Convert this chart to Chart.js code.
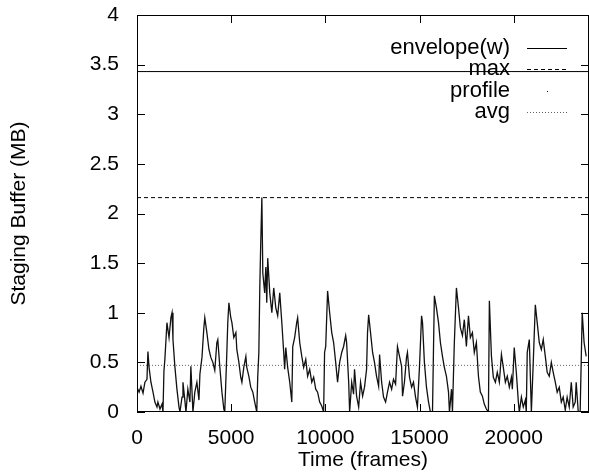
<!DOCTYPE html>
<html>
<head>
<meta charset="utf-8">
<script src="https://cdn.jsdelivr.net/npm/chart.js@4.4.1/dist/chart.umd.min.js"></script>
<style>
body { margin: 0; background: #fff; }
</style>
</head>
<body>
<canvas id="canvas1" width="589" height="474"></canvas>
<script>
// profile: [frame, MB]
var profile = [
[0,0.25],[110,0.2],[210,0.26],[320,0.19],[420,0.3],[530,0.33],[580,0.61],[640,0.45],[740,0.3],[850,0.2],[950,0.1],[1060,0.05],[1110,0.1],[1220,0.03],[1330,0.08],[1380,0],
[1430,0.41],[1480,0.53],[1590,0.9],[1700,0.75],[1800,0.95],[1860,1.0],[1910,0.73],[2010,0.46],[2120,0.23],[2230,0.05],[2280,0],[2390,0.15],[2440,0.3],[2540,0.12],[2600,0],
[2700,0.23],[2810,0.1],[2860,0.46],[2970,0],[3070,0.2],[3180,0.3],[3290,0.12],[3340,0.38],[3450,0.55],[3550,0.85],[3600,0.95],[3710,0.8],[3820,0.63],[3920,0.55],[4030,0.5],
[4130,0.42],[4240,0.7],[4290,0.73],[4400,0.45],[4510,0.2],[4610,0.03],[4660,0],[4770,0.6],[4820,0.9],[4880,1.1],[4980,0.95],[5040,0.9],[5140,0.75],[5250,0.8],[5300,0.63],
[5410,0.5],[5510,0.35],[5570,0.3],[5670,0.45],[5780,0.56],[5830,0.45],[5940,0.36],[6040,0.25],[6150,0.2],[6250,0.1],[6360,0],[6410,0.35],[6470,0.6],[6520,1.25],[6570,1.7],
[6630,2.16],[6680,1.4],[6780,1.2],[6840,1.46],[6890,1.1],[6940,1.55],[7050,1.2],[7160,1.0],[7260,1.25],[7370,1.05],[7470,0.97],[7580,1.2],[7690,0.9],[7790,0.6],[7840,0.43],
[7900,0.65],[8000,0.45],[8110,0.3],[8220,0.1],[8270,0.66],[8370,0.75],[8480,0.9],[8530,0.95],[8640,0.7],[8750,0.56],[8850,0.45],[8960,0.53],[9060,0.36],[9170,0.43],[9280,0.3],
[9380,0.35],[9490,0.23],[9590,0.2],[9700,0.1],[9810,0.06],[9910,0],[9960,0.6],[10020,0.66],[10120,1.22],[10230,1.0],[10340,0.8],[10440,0.7],[10550,0.5],[10650,0.3],[10760,0.5],
[10870,0.6],[10970,0.66],[11080,0.77],[11130,0.7],[11240,0.3],[11290,0],[11400,0.3],[11500,0.18],[11550,0.43],[11660,0.16],[11770,0.05],[11870,0.3],[11980,0.16],[12080,0.25],
[12190,0.43],[12240,0.8],[12300,0.98],[12400,0.8],[12510,0.6],[12610,0.5],[12720,0.36],[12830,0.26],[12880,0.58],[12990,0.3],[13090,0.15],[13200,0.1],[13300,0.2],[13410,0.3],
[13520,0.23],[13620,0.33],[13730,0.28],[13830,0.66],[13940,0.56],[14050,0.46],[14100,0.16],[14200,0.3],[14310,0.55],[14360,0.6],[14470,0.35],[14580,0.25],[14680,0.3],[14790,0.15],
[14890,0.05],[15000,0.46],[15110,0.97],[15160,0.9],[15260,0.5],[15370,0.25],[15480,0.1],[15580,0],[15690,0],[15740,0.6],[15790,1.17],[15900,1.05],[16010,0.9],[16110,0.7],
[16220,0.56],[16320,0.45],[16430,0.36],[16540,0.2],[16590,0],[16700,0.23],[16750,0],[16850,0.7],[16960,1.25],[17070,1.05],[17170,0.85],[17280,0.77],[17380,0.93],[17490,0.66],
[17600,0.97],[17700,0.75],[17810,0.8],[17910,0.6],[18020,0.7],[18130,0.36],[18230,0.2],[18340,0.16],[18440,0.08],[18550,0.03],[18660,0],[18710,1.12],[18820,0.56],[18920,0.35],
[19030,0.3],[19130,0.4],[19240,0.3],[19350,0.58],[19450,0.45],[19560,0.3],[19660,0.36],[19770,0.25],[19880,0.35],[19930,0.23],[20030,0.65],[20140,0.4],[20250,0.1],[20300,0],
[20410,0.15],[20510,0.05],[20620,0.12],[20670,0],[20720,0.6],[20830,0.73],[20940,0],[21040,0.5],[21150,1.08],[21250,0.9],[21360,0.7],[21470,0.63],[21570,0.73],[21680,0.56],
[21780,0.4],[21890,0.36],[22000,0.5],[22100,0.4],[22210,0.3],[22310,0.2],[22420,0.25],[22530,0.1],[22630,0.15],[22740,0.02],[22840,0.15],[22950,0.05],[23060,0.3],[23160,0.05],
[23270,0.1],[23320,0.3],[23430,0],[23530,0],[23640,1.0],[23740,0.7],[23850,0.56]
];

var levels = [3.43, 2.16, 0.47]; // envelope(w), max, avg
var labels = ['envelope(w)', 'max', 'profile', 'avg'];
var xRange = [0, 24000];
var yRange = [0, 4];
var xTicks = [0, 5000, 10000, 15000, 20000];
var yTicks = [0, 0.5, 1, 1.5, 2, 2.5, 3, 3.5, 4];

var font = 'Liberation Sans, Arial, Helvetica, sans-serif';
var fsize = 21;

function flat(v) {
    return [{x: xRange[0], y: v}, {x: xRange[1], y: v}];
}

var pts = [];
for (var i = 0; i < profile.length; i++) {
    pts.push({x: profile[i][0], y: profile[i][1]});
}

// gnuplot style: box, inward ticks on all 4 sides, legend inside top right
var gnuplotBits = {
    id: 'gnuplotBits',
    afterDraw: function (chart) {
        var ctx = chart.ctx;
        var a = chart.chartArea;
        var xs = chart.scales.x, ys = chart.scales.y;
        ctx.save();
        ctx.strokeStyle = '#000';
        ctx.lineWidth = 1;
        ctx.strokeRect(a.left + 0.5, a.top + 0.5, a.right - a.left - 1, a.bottom - a.top - 1);
        ctx.beginPath();
        for (var j = 0; j < yTicks.length; j++) {
            var py = Math.round(ys.getPixelForValue(yTicks[j])) + 0.5;
            ctx.moveTo(a.left, py); ctx.lineTo(a.left + 8, py);
            ctx.moveTo(a.right, py); ctx.lineTo(a.right - 8, py);
        }
        for (var t = 0; t < xTicks.length; t++) {
            var px = Math.round(xs.getPixelForValue(xTicks[t])) + 0.5;
            ctx.moveTo(px, a.bottom); ctx.lineTo(px, a.bottom - 8);
            ctx.moveTo(px, a.top); ctx.lineTo(px, a.top + 8);
        }
        ctx.stroke();

        // legend
        ctx.font = '22px ' + font;
        ctx.textAlign = 'right';
        ctx.textBaseline = 'middle';
        ctx.fillStyle = '#000';
        var ds = chart.data.datasets;
        for (var k = 0; k < ds.length; k++) {
            var ly = 48 + k * 21.3;
            ctx.fillText(ds[k].label, 510, ly);
            ctx.strokeStyle = ds[k].borderColor;
            ctx.lineWidth = 1;
            ctx.setLineDash(ds[k].borderDash || []);
            ctx.beginPath();
            if (ds[k].label == 'profile') {
                ctx.moveTo(547, Math.round(ly) + 0.5); ctx.lineTo(548, Math.round(ly) + 0.5);
            } else {
                ctx.moveTo(527, Math.round(ly) + 0.5); ctx.lineTo(567, Math.round(ly) + 0.5);
            }
            ctx.stroke();
        }
        ctx.restore();
    }
};

var ctx = document.getElementById('canvas1').getContext('2d');
var myChart = new Chart(ctx, {
    type: 'line',
    data: {
        datasets: [
            {label: labels[0], data: flat(levels[0]), borderColor: '#000', borderWidth: 1, pointRadius: 0},
            {label: labels[1], data: flat(levels[1]), borderColor: '#000', borderWidth: 1, borderDash: [4, 3], pointRadius: 0},
            {label: labels[2], data: pts, borderColor: '#111', borderWidth: 1.3, pointRadius: 0, tension: 0},
            {label: labels[3], data: flat(levels[2]), borderColor: '#666', borderWidth: 1, borderDash: [1, 2], pointRadius: 0}
        ]
    },
    options: {
        responsive: false,
        animation: false,
        layout: {padding: {top: 15, right: 0, bottom: 0, left: 0}},
        plugins: {legend: {display: false}, tooltip: {enabled: false}},
        scales: {
            x: {
                type: 'linear',
                min: xRange[0], max: xRange[1],
                grid: {display: false},
                border: {display: false},
                afterBuildTicks: function (s) {
                    s.ticks = xTicks.map(function (v) { return {value: v}; });
                },
                afterFit: function (s) { s.height = 62; s.paddingLeft = 0; s.paddingRight = 0; },
                ticks: {
                    autoSkip: false, padding: 6, color: '#000', maxRotation: 0,
                    font: {family: font, size: fsize},
                    callback: function (v) { return String(v); }
                },
                title: {display: true, text: 'Time (frames)', color: '#000', font: {family: font, size: fsize}, padding: {top: 0, bottom: 1}}
            },
            y: {
                min: yRange[0], max: yRange[1],
                grid: {display: false},
                border: {display: false},
                afterBuildTicks: function (s) {
                    s.ticks = yTicks.map(function (v) { return {value: v}; });
                },
                afterFit: function (s) { s.width = 137; s.paddingTop = 0; s.paddingBottom = 0; },
                ticks: {
                    padding: 10, color: '#000',
                    font: {family: font, size: fsize},
                    callback: function (v) { return String(v); }
                },
                title: {display: true, text: 'Staging Buffer (MB)', color: '#000', font: {family: font, size: fsize}, padding: {top: 7, bottom: 0}}
            }
        }
    },
    plugins: [gnuplotBits]
});
</script>
</body>
</html>
